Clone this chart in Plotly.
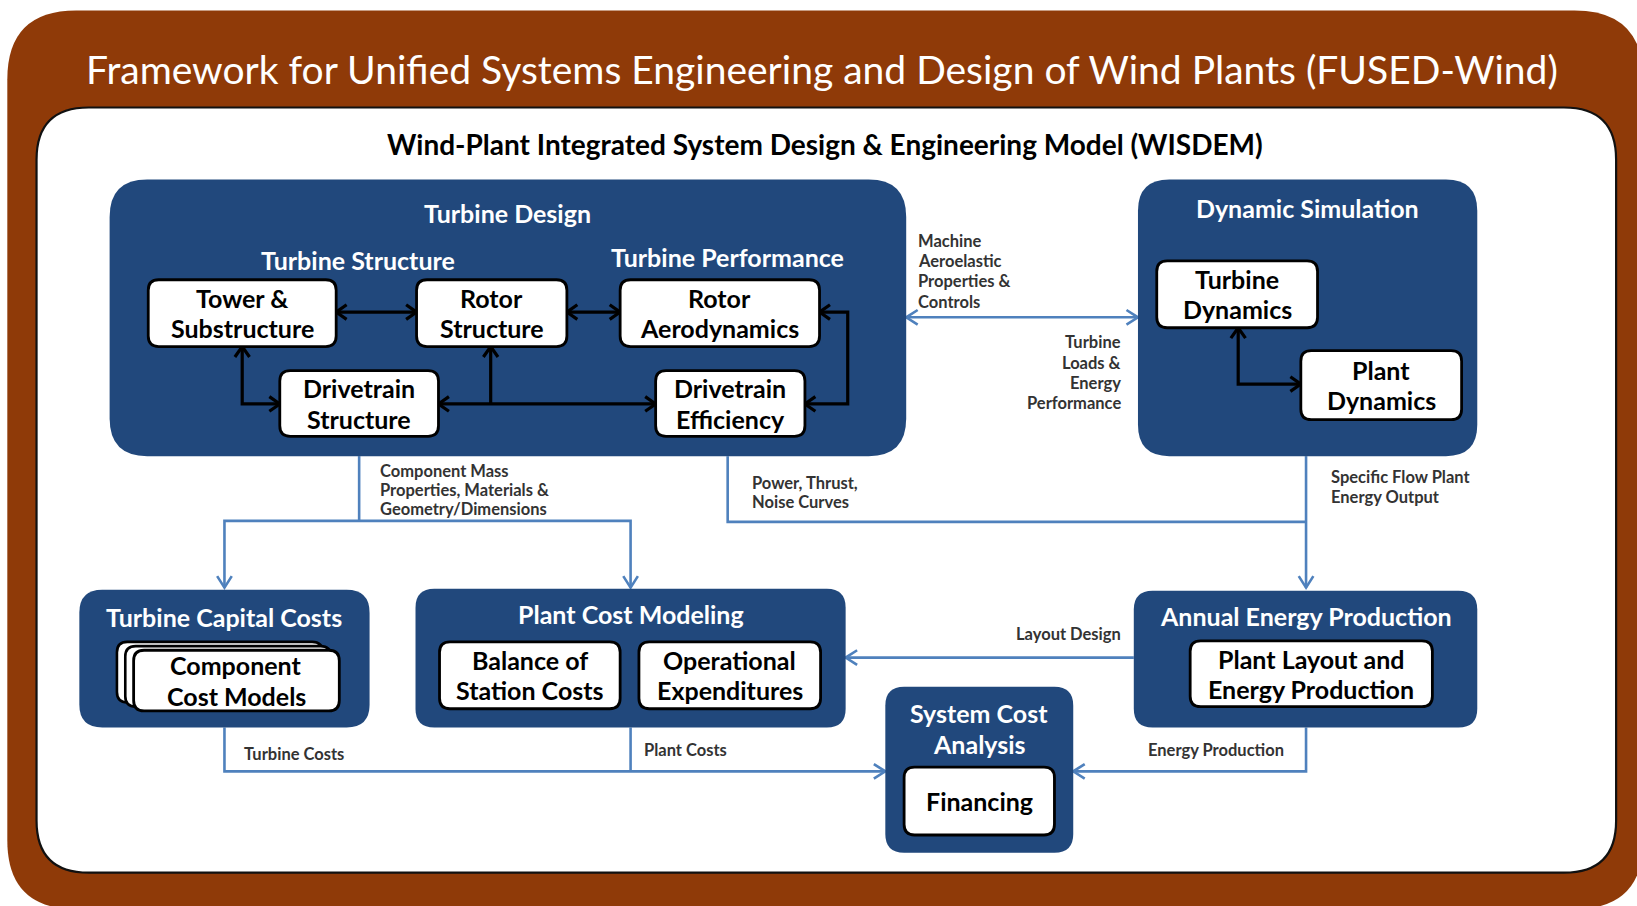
import plotly.graph_objects as go

# ---- canvas (coordinates in a 1568 x 868 design space, scaled by the axes) ----
W_SPACE, H_SPACE = 1568, 868

BROWN = "#8f3a08"
NAVY = "#21487c"
LINKBLUE = "#4f81bd"
LABEL_GRAY = "#333333"
FONT = "Lato"

main_title = "Framework for Unified Systems Engineering and Design of Wind Plants (FUSED-Wind)"
sub_title = "Wind-Plant Integrated System Design & Engineering Model (WISDEM)"

# blue group boxes
group_names = [["Turbine Design"], ["Dynamic Simulation"], ["Turbine Capital Costs"],
               ["Plant Cost Modeling"], ["Annual Energy Production"], ["System Cost", "Analysis"]]
group_x0 = [105, 1090, 76, 398, 1086, 848]
group_y0 = [172, 172, 565, 564, 566, 658]
group_x1 = [868, 1415, 354, 810, 1415, 1028]
group_y1 = [437, 437, 697, 697, 697, 817]
group_r = [36, 30, 22, 18, 18, 18]
group_title_y = [204, 199, 591, 588, 590, 698]

sub_headers = ["Turbine Structure", "Turbine Performance"]
sub_header_x = [343, 697]
sub_header_y = [249, 246]

# white component boxes
comp_names = [["Tower &", "Substructure"], ["Rotor", "Structure"], ["Rotor", "Aerodynamics"],
              ["Drivetrain", "Structure"], ["Drivetrain", "Efficiency"],
              ["Turbine", "Dynamics"], ["Plant", "Dynamics"],
              ["Component", "Cost Models"], ["Balance of", "Station Costs"],
              ["Operational", "Expenditures"], ["Plant Layout and", "Energy Production"],
              ["Financing"]]
comp_x0 = [142, 399, 594, 268, 628, 1108, 1246, 128, 421, 612, 1140, 866]
comp_y0 = [268, 268, 268, 355, 355, 250, 336, 623, 615, 615, 614, 735]
comp_x1 = [322, 543, 785, 420, 771, 1262, 1400, 325, 594, 786, 1372, 1010]
comp_y1 = [332, 332, 332, 418, 418, 314, 402, 681, 679, 679, 677, 800]
stack_offsets = [(-16, -8), (-8, -4)]  # cards behind "Component Cost Models"

# connectors
black_lines = [
    [(322, 299), (399, 299)],
    [(543, 299), (594, 299)],
    [(232, 332), (232, 387), (268, 387)],
    [(420, 387), (628, 387)],
    [(470, 387), (470, 332)],
    [(785, 299), (812, 299), (812, 387), (771, 387)],
    [(1186, 314), (1186, 368), (1246, 368)],
]
black_heads = [(322, 299, "L"), (399, 299, "R"), (543, 299, "L"), (594, 299, "R"),
               (232, 332, "U"), (268, 387, "R"), (420, 387, "L"), (628, 387, "R"),
               (470, 332, "U"), (785, 299, "L"), (771, 387, "L"),
               (1186, 314, "U"), (1246, 368, "R")]

blue_lines = [
    [(868, 304), (1090, 304)],
    [(344, 437), (344, 499)],
    [(215, 563), (215, 499), (604, 499), (604, 563)],
    [(697, 437), (697, 500), (1251, 500)],
    [(1251, 437), (1251, 563)],
    [(1086, 630), (810, 630)],
    [(215, 697), (215, 739), (848, 739)],
    [(604, 697), (604, 739)],
    [(1251, 697), (1251, 739), (1028, 739)],
]
blue_heads = [(868, 304, "L"), (1090, 304, "R"), (215, 563, "D"), (604, 563, "D"),
              (1251, 563, "D"), (810, 630, "L"), (848, 739, "R"), (1028, 739, "L")]

# small flow labels: lines, x, first-line y, line step, anchor
flow_texts = [["Machine", "Aeroelastic", "Properties &", "Controls"],
              ["Turbine", "Loads &", "Energy", "Performance"],
              ["Component Mass", "Properties, Materials &", "Geometry/Dimensions"],
              ["Power, Thrust,", "Noise Curves"],
              ["Specific Flow Plant", "Energy Output"],
              ["Layout Design"], ["Turbine Costs"], ["Plant Costs"], ["Energy Production"]]
flow_x = [877, 1076, 362, 718, 1273, 1076, 232, 615, 1165]
flow_y = [231, 328, 451, 463, 457, 607, 722, 719, 719]
flow_step = [19.3, 19.3, 18.5, 18, 19, 0, 0, 0, 0]
flow_anchor = ["left", "right", "left", "left", "left", "right", "left", "left", "center"]


def rrect(x0, y0, x1, y1, r):
    return (f"M{x0 + r},{y0} L{x1 - r},{y0} Q{x1},{y0} {x1},{y0 + r} "
            f"L{x1},{y1 - r} Q{x1},{y1} {x1 - r},{y1} L{x0 + r},{y1} "
            f"Q{x0},{y1} {x0},{y1 - r} L{x0},{y0 + r} Q{x0},{y0} {x0 + r},{y0} Z")


def polyline(pts):
    return "M" + " L".join(f"{x},{y}" for x, y in pts)


DIRS = {"L": (-1, 0), "R": (1, 0), "U": (0, -1), "D": (0, 1)}


def chevron(x, y, d, L=10, Wd=7):
    dx, dy = DIRS[d]
    px, py = -dy, dx
    a = (x - L * dx + Wd * px, y - L * dy + Wd * py)
    b = (x - L * dx - Wd * px, y - L * dy - Wd * py)
    return f"M{a[0]},{a[1]} L{x},{y} L{b[0]},{b[1]}"


shapes = []
annotations = []


def add_text(lines, x, y_first, step, size, color, anchor="center", bold=True):
    for k, ln in enumerate(lines):
        annotations.append(dict(x=x, y=y_first + k * step,
                                text=f"<b>{ln}</b>" if bold else ln,
                                showarrow=False, align=anchor,
                                font=dict(family=FONT, size=size, color=color),
                                xanchor=anchor, yanchor="middle"))


# outer brown frame and white panel
shapes.append(dict(type="path", path=rrect(7, 10, 1574, 871, 66),
                   fillcolor=BROWN, line=dict(width=0)))
shapes.append(dict(type="path", path=rrect(35, 103, 1548, 836, 50),
                   fillcolor="white", line=dict(color="#111111", width=2.2)))

# blue connectors (under boxes)
for pts in blue_lines:
    shapes.append(dict(type="path", path=polyline(pts),
                       line=dict(color=LINKBLUE, width=2.6)))
for x, y, d in blue_heads:
    shapes.append(dict(type="path", path=chevron(x, y, d, 11, 7),
                       line=dict(color=LINKBLUE, width=2.6)))

# blue groups
for i in range(len(group_names)):
    shapes.append(dict(type="path",
                       path=rrect(group_x0[i], group_y0[i], group_x1[i], group_y1[i], group_r[i]),
                       fillcolor=NAVY, line=dict(width=0)))
    add_text(group_names[i], (group_x0[i] + group_x1[i]) / 2,
             group_title_y[i] - 14.5 * (len(group_names[i]) - 1), 29, 25, "white")
for t, x, y in zip(sub_headers, sub_header_x, sub_header_y):
    add_text([t], x, y, 0, 25, "white")

# black connectors inside groups
for pts in black_lines:
    shapes.append(dict(type="path", path=polyline(pts),
                       line=dict(color="black", width=3.2)))
for x, y, d in black_heads:
    shapes.append(dict(type="path", path=chevron(x, y, d, 10, 7),
                       line=dict(color="black", width=3.2)))

# stacked cards behind Component Cost Models
ci = 7
for ox, oy in stack_offsets:
    shapes.append(dict(type="path",
                       path=rrect(comp_x0[ci] + ox, comp_y0[ci] + oy,
                                  comp_x1[ci] + ox, comp_y1[ci] + oy, 10),
                       fillcolor="white", line=dict(color="black", width=2.6)))

# white component boxes
for i in range(len(comp_names)):
    shapes.append(dict(type="path",
                       path=rrect(comp_x0[i], comp_y0[i], comp_x1[i], comp_y1[i], 10),
                       fillcolor="white", line=dict(color="black", width=2.8)))
    n = len(comp_names[i])
    yc = (comp_y0[i] + comp_y1[i]) / 2
    add_text(comp_names[i], (comp_x0[i] + comp_x1[i]) / 2, yc - 14.5 * (n - 1), 29, 25, "black")

# flow labels
for t, x, y, s, a in zip(flow_texts, flow_x, flow_y, flow_step, flow_anchor):
    add_text(t, x, y, s, 16.5, LABEL_GRAY, anchor=a)

# titles
add_text([main_title], 787, 66, 0, 39, "white", bold=False)
add_text([sub_title], 790, 138, 0, 28, "black")

fig = go.Figure()
fig.update_layout(
    width=1637, height=906,
    margin=dict(l=0, r=0, t=0, b=0),
    paper_bgcolor="white", plot_bgcolor="white",
    xaxis=dict(range=[0, W_SPACE], visible=False, fixedrange=True),
    yaxis=dict(range=[H_SPACE, 0], visible=False, fixedrange=True),
    shapes=shapes, annotations=annotations, showlegend=False,
)
fig.write_html("out.html", config={"displayModeBar": False},
               post_script="document.body.style.margin='0';document.body.style.overflow='hidden';")
